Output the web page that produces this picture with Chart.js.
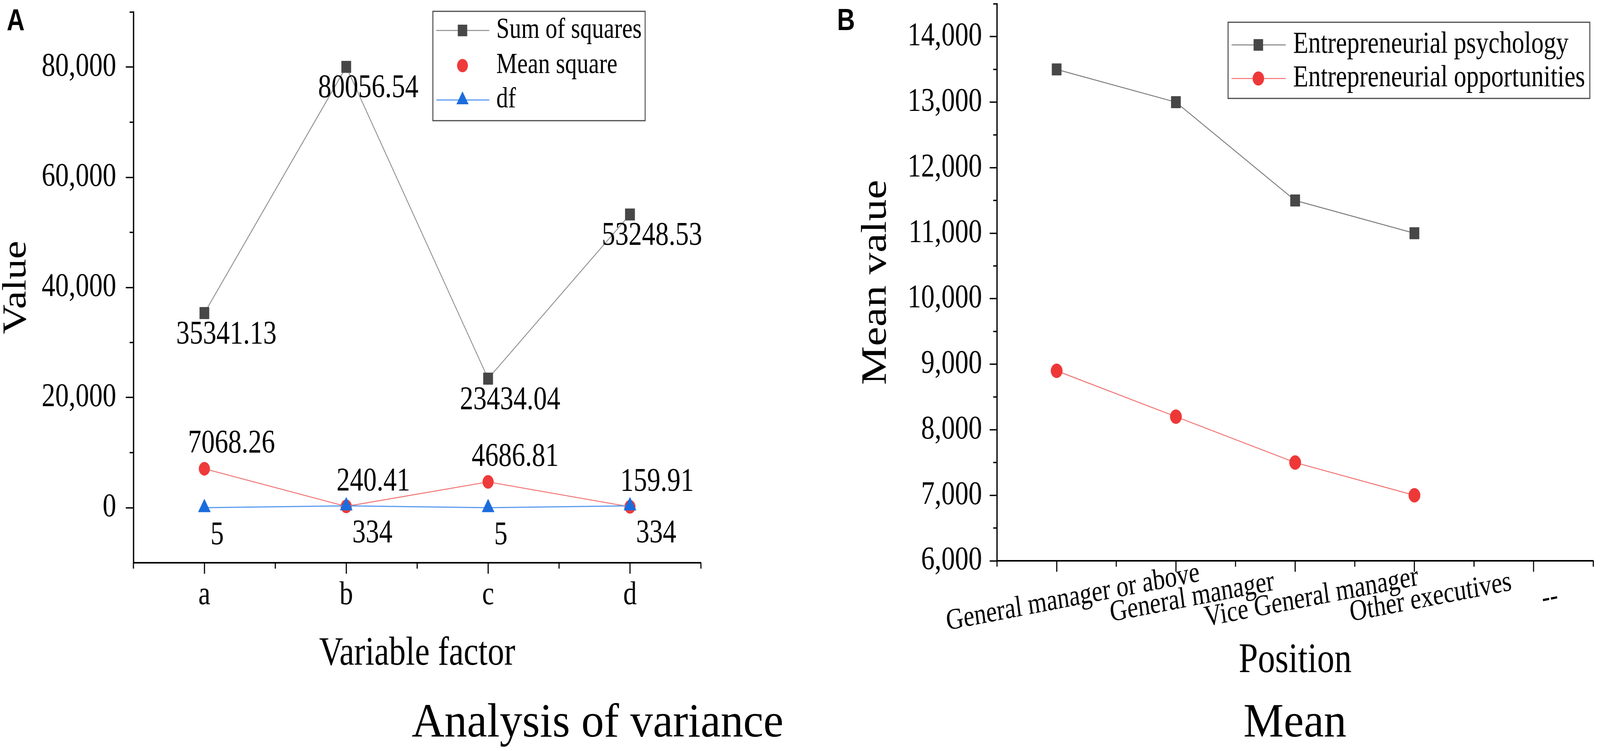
<!DOCTYPE html>
<html>
<head>
<meta charset="utf-8">
<title>Analysis of variance / Mean</title>
<script src="https://cdn.jsdelivr.net/npm/chart.js@4.4.1/dist/chart.umd.min.js"></script>
<style>
    html, body { margin: 0; padding: 0; background: #fff; overflow: hidden; }
    /* laid out at 4317 wide, squeezed to whatever the window really gives */
    #page { position: absolute; left: 0; top: 0; width: 4317px; height: 1923px; transform-origin: 0 0; }
    #chartA { position: absolute; left: 0; top: 0; }
    #chartB { position: absolute; left: 2150px; top: 0; }
    .caption { position: absolute; top: 1784px; width: 1000px; font-family: "Liberation Serif", "Times New Roman", serif; font-size: 122px; line-height: 1; color: #000; text-align: center; white-space: nowrap; }
</style>
</head>
<body>
<div id="page">
    <!-- bitmaps are drawn wider than shown, so the panels come out narrow like the source figure -->
    <canvas id="chartA" width="2500" height="1923" style="width:2150px;height:1923px;"></canvas>
    <canvas id="chartB" width="2520" height="1923" style="width:2167px;height:1923px;"></canvas>
    <div class="caption" style="left:1111px;">Analysis of variance</div>
    <div class="caption" style="left:2994px;">Mean</div>
</div>

<script>
// Panel A - analysis of variance
var factorLabels = ['a', 'b', 'c', 'd'];
var sumOfSquares = [35341.13, 80056.54, 23434.04, 53248.53];
var meanSquare = [7068.26, 240.41, 4686.81, 159.91];
var dfValues = [5, 334, 5, 334];
var valueTicks = [0, 20000, 40000, 60000, 80000];

// Panel B - mean values by position
var positionLabels = ['General manager or above', 'General manager', 'Vice General manager', 'Other executives', '--'];
var psychologyMeans = [13500, 13000, 11500, 11000, null];
var opportunityMeans = [8900, 8200, 7500, 7000, null];
var meanTicks = [6000, 7000, 8000, 9000, 10000, 11000, 12000, 13000, 14000];

var SERIF = '"Liberation Serif", "Times New Roman", serif';

function drawMarker(ctx, style, r, x, y) {
    ctx.beginPath();
    if (style === 'rect') {
        var h = r * Math.SQRT1_2;
        ctx.rect(x - h, y - h, 2 * h, 2 * h);
    } else if (style === 'triangle') {
        ctx.moveTo(x, y - r);
        ctx.lineTo(x + r * Math.sin(Math.PI / 3), y + r / 2);
        ctx.lineTo(x - r * Math.sin(Math.PI / 3), y + r / 2);
        ctx.closePath();
    } else {
        ctx.arc(x, y, r, 0, Math.PI * 2);
    }
    ctx.fill();
}

// small ticks between the labelled ones, both axes
function makeMinorTicks(id) {
    return {
        id: id,
        afterDraw: function (chart) {
            var ctx = chart.ctx, xs = chart.scales.x, ys = chart.scales.y;
            ctx.save();
            ctx.strokeStyle = '#000';
            ctx.lineWidth = 3.5;
            ctx.beginPath();
            for (var k = 0; k <= xs.ticks.length; k++) {
                var px = xs.getPixelForValue(k - 0.5);
                ctx.moveTo(px, xs.top);
                ctx.lineTo(px, xs.top + 15);
            }
            var step = ys.ticks[1].value - ys.ticks[0].value;
            for (var v = ys.ticks[0].value - step / 2; v <= ys.max; v += step) {
                if (v <= ys.min) continue;
                var py = ys.getPixelForValue(v);
                ctx.moveTo(ys.right, py);
                ctx.lineTo(ys.right - 12, py);
            }
            ctx.stroke();
            ctx.restore();
        }
    };
}

// value labels next to the points
function makePointLabels(id, items) {
    return {
        id: id,
        afterDatasetsDraw: function (chart) {
            var ctx = chart.ctx;
            items.forEach(function (item) {
                var values = chart.data.datasets[item.dataset].data;
                var meta = chart.getDatasetMeta(item.dataset);
                ctx.save();
                ctx.font = item.size + 'px ' + SERIF;
                ctx.fillStyle = '#000';
                ctx.textAlign = item.align;
                ctx.textBaseline = 'middle';
                meta.data.forEach(function (pt, j) {
                    if (values[j] === null || values[j] === undefined) return;
                    ctx.fillText(item.format(values[j]), pt.x + item.dx, pt.y + item.dy);
                });
                ctx.restore();
            });
        }
    };
}

// boxed legend sitting inside the plot
function makeBoxLegend(id, cfg) {
    return {
        id: id,
        afterDraw: function (chart) {
            var ctx = chart.ctx;
            ctx.save();
            ctx.fillStyle = '#fff';
            ctx.fillRect(cfg.left, cfg.top, cfg.right - cfg.left, cfg.bottom - cfg.top);
            ctx.lineWidth = 3;
            ctx.strokeStyle = '#4a4a4a';
            ctx.strokeRect(cfg.left, cfg.top, cfg.right - cfg.left, cfg.bottom - cfg.top);
            cfg.rows.forEach(function (row) {
                var ds = chart.data.datasets[row.dataset];
                if (row.line) {
                    ctx.strokeStyle = ds.borderColor;
                    ctx.lineWidth = ds.borderWidth;
                    ctx.beginPath();
                    ctx.moveTo(cfg.lineStart, row.y);
                    ctx.lineTo(cfg.lineEnd, row.y);
                    ctx.stroke();
                }
                ctx.fillStyle = ds.pointBackgroundColor;
                drawMarker(ctx, ds.pointStyle, ds.pointRadius, cfg.marker, row.y);
                ctx.fillStyle = '#000';
                ctx.font = cfg.size + 'px ' + SERIF;
                ctx.textAlign = 'left';
                ctx.textBaseline = 'middle';
                ctx.fillText(ds.label, cfg.text, row.y);
            });
            ctx.restore();
        }
    };
}

function makePanelLetter(id, letter, x, y) {
    return {
        id: id,
        afterDraw: function (chart) {
            var ctx = chart.ctx;
            ctx.save();
            ctx.font = 'bold 78px "Liberation Sans", Arial, sans-serif';
            ctx.fillStyle = '#000';
            ctx.textAlign = 'left';
            ctx.textBaseline = 'alphabetic';
            ctx.fillText(letter, x, y);
            ctx.restore();
        }
    };
}

// slanted category labels under panel B
function makeSlantedLabels(id, cfg) {
    return {
        id: id,
        afterDraw: function (chart) {
            var ctx = chart.ctx, xs = chart.scales.x;
            ctx.save();
            ctx.font = cfg.size + 'px ' + SERIF;
            ctx.fillStyle = '#000';
            ctx.textAlign = 'center';
            ctx.textBaseline = 'middle';
            chart.data.labels.forEach(function (label, i) {
                ctx.save();
                ctx.translate(xs.getPixelForValue(i) + cfg.dx, xs.top + cfg.dy);
                ctx.rotate(-cfg.angle * Math.PI / 180);
                ctx.fillText(label, 0, 0);
                ctx.restore();
            });
            ctx.restore();
        }
    };
}

function axisGrid(len) {
    return { drawOnChartArea: false, drawTicks: true, tickLength: len, tickWidth: 3.5, tickColor: '#000' };
}
var axisBorder = { display: true, color: '#000', width: 4 };

function thousands(v) {
    return Number(v).toLocaleString('en-US');
}

document.addEventListener("DOMContentLoaded", function () {
    // the window may come out narrower than 4317; squeeze the page so all of it shows
    var sx = Math.min(1, (window.innerWidth || 4317) / 4317);
    document.getElementById('page').style.transform = 'scaleX(' + sx + ')';

    new Chart(document.getElementById('chartA'), {
        type: 'line',
        data: {
            labels: factorLabels,
            datasets: [{
                label: 'Sum of squares',
                data: sumOfSquares,
                borderColor: '#8a8a8a',
                borderWidth: 2.5,
                pointStyle: 'rect',
                pointRadius: 21,
                pointBackgroundColor: '#474747',
                pointBorderColor: '#474747',
                pointBorderWidth: 1,
                order: 2
            }, {
                label: 'Mean square',
                data: meanSquare,
                borderColor: '#f27878',
                borderWidth: 2.5,
                pointStyle: 'circle',
                pointRadius: 17,
                pointBackgroundColor: '#ee3a3a',
                pointBorderColor: '#ee3a3a',
                pointBorderWidth: 1,
                order: 1
            }, {
                label: 'df',
                data: dfValues,
                borderColor: '#5b9cf0',
                borderWidth: 3,
                pointStyle: 'triangle',
                pointRadius: 22,
                pointBackgroundColor: '#1b6cdc',
                pointBorderColor: '#1b6cdc',
                pointBorderWidth: 1,
                order: 0
            }]
        },
        options: {
            responsive: false,
            animation: false,
            devicePixelRatio: 1,
            layout: { autoPadding: false, padding: { left: 0, right: 301, top: 31, bottom: 0 } },
            elements: { line: { tension: 0 } },
            plugins: { legend: { display: false }, tooltip: { enabled: false } },
            scales: {
                x: {
                    offset: true,
                    grid: axisGrid(28),
                    border: axisBorder,
                    ticks: { color: '#000', padding: 5, font: { family: SERIF, size: 85 } },
                    title: {
                        display: true, text: 'Variable factor', color: '#000',
                        font: { family: SERIF, size: 104, lineHeight: 1 },
                        padding: { top: 0, bottom: 196 }
                    },
                    afterFit: function (s) { s.height = 482; s.paddingLeft = 0; s.paddingRight = 0; }
                },
                y: {
                    min: -10000,
                    max: 90000,
                    afterBuildTicks: function (s) { s.ticks = valueTicks.map(function (v) { return { value: v }; }); },
                    grid: axisGrid(24),
                    border: axisBorder,
                    ticks: { color: '#000', padding: 30, font: { family: SERIF, size: 85 }, callback: thousands },
                    title: {
                        display: true, text: 'Value', color: '#000',
                        font: { family: SERIF, size: 105, lineHeight: 1 },
                        padding: { top: 0, bottom: 0 }
                    },
                    afterFit: function (s) { s.width = 418.6; s.paddingTop = 0; s.paddingBottom = 0; }
                }
            }
        },
        plugins: [
            makeMinorTicks('minorTicksA'),
            makePointLabels('pointLabelsA', [
                { dataset: 0, dx: 69, dy: 56, align: 'center', size: 84, format: function (v) { return v.toFixed(2); } },
                { dataset: 1, dx: 85, dy: -63, align: 'center', size: 84, format: function (v) { return v.toFixed(2); } },
                { dataset: 2, dx: 19, dy: 72, align: 'left', size: 84, format: function (v) { return String(v); } }
            ]),
            makeBoxLegend('legendA', {
                left: 1358, right: 2024, top: 29, bottom: 309,
                lineStart: 1369, lineEnd: 1535, marker: 1451, text: 1557, size: 74,
                rows: [
                    { dataset: 0, y: 78, line: true },
                    { dataset: 1, y: 168, line: false },
                    { dataset: 2, y: 256, line: true }
                ]
            }),
            makePanelLetter('letterA', 'A', 21, 78)
        ]
    });

    new Chart(document.getElementById('chartB'), {
        type: 'line',
        data: {
            labels: positionLabels,
            datasets: [{
                label: 'Entrepreneurial psychology',
                data: psychologyMeans,
                borderColor: '#7d7d7d',
                borderWidth: 2.5,
                pointStyle: 'rect',
                pointRadius: 21,
                pointBackgroundColor: '#474747',
                pointBorderColor: '#474747',
                pointBorderWidth: 1
            }, {
                label: 'Entrepreneurial opportunities',
                data: opportunityMeans,
                borderColor: '#f17070',
                borderWidth: 2.5,
                pointStyle: 'circle',
                pointRadius: 18,
                pointBackgroundColor: '#ee3838',
                pointBorderColor: '#ee3838',
                pointBorderWidth: 1
            }]
        },
        options: {
            responsive: false,
            animation: false,
            devicePixelRatio: 1,
            layout: { autoPadding: false, padding: { left: 0, right: 21, top: 10, bottom: 0 } },
            elements: { line: { tension: 0 } },
            plugins: { legend: { display: false }, tooltip: { enabled: false } },
            scales: {
                x: {
                    offset: true,
                    grid: axisGrid(28),
                    border: axisBorder,
                    ticks: { display: false },
                    title: {
                        display: true, text: 'Position', color: '#000',
                        font: { family: SERIF, size: 108, lineHeight: 1 },
                        padding: { top: 0, bottom: 176 }
                    },
                    afterFit: function (s) { s.height = 487; s.paddingLeft = 0; s.paddingRight = 0; }
                },
                y: {
                    min: 6000,
                    max: 14500,
                    afterBuildTicks: function (s) { s.ticks = meanTicks.map(function (v) { return { value: v }; }); },
                    grid: axisGrid(23),
                    border: axisBorder,
                    ticks: { color: '#000', padding: 24, font: { family: SERIF, size: 85 }, callback: thousands },
                    title: {
                        display: true, text: 'Mean value', color: '#000',
                        font: { family: SERIF, size: 112, lineHeight: 1 },
                        padding: { top: 194, bottom: 0 }
                    },
                    afterFit: function (s) { s.width = 628; s.paddingTop = 0; s.paddingBottom = 0; }
                }
            }
        },
        plugins: [
            makeMinorTicks('minorTicksB'),
            makeSlantedLabels('slantedB', { dx: 51, dy: 95, angle: 9, size: 76 }),
            makeBoxLegend('legendB', {
                left: 1353, right: 2488, top: 57, bottom: 252,
                lineStart: 1364, lineEnd: 1534, marker: 1448, text: 1557, size: 78,
                rows: [
                    { dataset: 0, y: 115, line: true },
                    { dataset: 1, y: 201, line: true }
                ]
            }),
            makePanelLetter('letterB', 'B', 126, 77)
        ]
    });
});
</script>
</body>
</html>
